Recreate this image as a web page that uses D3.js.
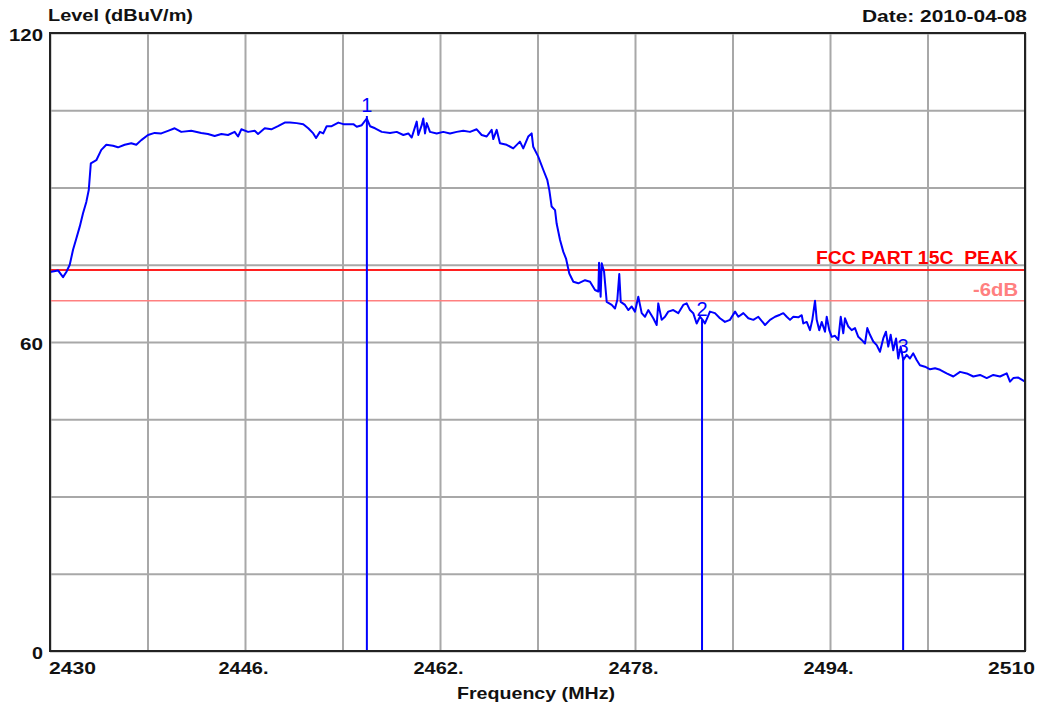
<!DOCTYPE html>
<html>
<head>
<meta charset="utf-8">
<script src="https://cdn.jsdelivr.net/npm/d3@7"></script>
<style>
  html, body { margin: 0; padding: 0; background: #ffffff; }
  svg { display: block; }
  text { font-family: Arial, "Liberation Sans", sans-serif; }
</style>
</head>
<body>
<svg id="chart" width="1046" height="705"></svg>
<script>
// ---------------- data ----------------
const freqMHz = [
  2430.00, 2430.66, 2431.07, 2431.34, 2431.62, 2431.89, 2432.16, 2432.44, 2432.71, 2432.98,
  2433.18, 2433.35, 2433.80, 2434.21, 2434.62, 2435.17, 2435.58, 2436.13, 2436.67, 2437.08,
  2437.49, 2438.04, 2438.59, 2439.13, 2439.68, 2440.23, 2440.77, 2441.59, 2442.41, 2442.96,
  2443.51, 2444.06, 2444.61, 2445.15, 2445.43, 2445.70, 2446.25, 2446.80, 2447.07, 2447.62,
  2448.16, 2448.71, 2449.26, 2449.69, 2450.24, 2450.78, 2451.19, 2451.60, 2451.83, 2452.15,
  2452.42, 2452.70, 2453.11, 2453.66, 2454.07, 2454.89, 2455.17, 2455.58, 2455.99, 2456.26,
  2456.67, 2457.22, 2457.90, 2458.45, 2458.99, 2459.40, 2459.68, 2460.09, 2460.22, 2460.50,
  2460.63, 2460.77, 2460.91, 2461.18, 2461.73, 2462.27, 2462.82, 2463.37, 2463.91, 2464.46,
  2465.01, 2465.42, 2465.83, 2466.24, 2466.37, 2466.65, 2466.92, 2467.47, 2468.01, 2468.56,
  2468.83, 2469.24, 2469.52, 2469.65, 2470.06, 2470.48, 2470.80, 2470.97, 2471.16, 2471.44,
  2471.57, 2471.85, 2472.12, 2472.34, 2472.61, 2472.94, 2473.35, 2473.90, 2474.31, 2474.72,
  2474.99, 2475.05, 2475.18, 2475.27, 2475.46, 2475.68, 2476.09, 2476.36, 2476.55, 2476.71,
  2476.83, 2477.18, 2477.45, 2477.73, 2478.00, 2478.27, 2478.55, 2478.82, 2479.09, 2479.50,
  2479.78, 2479.91, 2480.19, 2480.46, 2480.73, 2481.14, 2481.55, 2481.96, 2482.24, 2482.51,
  2482.78, 2483.06, 2483.33, 2483.55, 2483.74, 2484.15, 2484.56, 2484.97, 2485.38, 2485.79,
  2486.21, 2486.48, 2486.89, 2487.30, 2487.71, 2488.12, 2488.67, 2489.08, 2489.49, 2489.90,
  2490.17, 2490.45, 2490.72, 2490.99, 2491.40, 2491.68, 2491.81, 2492.09, 2492.36, 2492.55,
  2492.77, 2492.91, 2493.12, 2493.32, 2493.59, 2493.73, 2493.94, 2494.14, 2494.41, 2494.68,
  2494.88, 2495.09, 2495.23, 2495.50, 2495.78, 2496.05, 2496.32, 2496.60, 2496.87, 2497.06,
  2497.28, 2497.55, 2497.83, 2498.10, 2498.37, 2498.59, 2498.78, 2498.98, 2499.19, 2499.42,
  2499.60, 2499.80, 2500.01, 2500.29, 2500.56, 2500.83, 2501.11, 2501.38, 2501.79, 2502.21,
  2502.62, 2503.03, 2503.57, 2504.12, 2504.67, 2505.22, 2505.76, 2506.31, 2506.86, 2507.40,
  2507.95, 2508.50, 2508.77, 2509.04, 2509.45, 2510.00
];
const levelDbuV = [
  73.6, 73.9, 72.6, 73.6, 75.0, 77.9, 80.1, 82.4, 85.0, 87.2,
  89.5, 94.7, 95.3, 97.3, 98.3, 98.1, 97.8, 98.3, 98.6, 98.3,
  99.2, 100.2, 100.6, 100.5, 101.0, 101.5, 100.8, 101.0, 100.6, 100.4,
  100.0, 100.4, 100.2, 100.8, 99.9, 101.3, 100.8, 101.0, 100.4, 101.5,
  101.3, 101.9, 102.6, 102.6, 102.5, 102.3, 101.5, 100.5, 99.6, 100.8,
  100.5, 101.9, 101.9, 102.6, 102.3, 102.3, 101.8, 102.1, 103.4, 101.9,
  101.5, 100.8, 100.6, 100.8, 100.2, 100.5, 99.7, 102.8, 100.2, 102.1,
  103.4, 100.5, 102.5, 100.8, 100.5, 100.8, 100.5, 100.8, 101.0, 100.8,
  101.3, 100.2, 99.9, 101.2, 99.4, 101.2, 98.6, 98.3, 97.6, 98.9,
  97.6, 99.9, 100.5, 97.9, 96.0, 93.4, 91.5, 89.5, 86.3, 85.6,
  83.0, 79.8, 77.5, 76.2, 73.3, 71.7, 71.4, 72.0, 71.7, 70.1,
  69.8, 75.4, 68.8, 75.3, 73.7, 67.8, 67.2, 66.5, 68.2, 73.2,
  67.8, 67.2, 66.2, 66.9, 65.9, 68.8, 65.6, 64.9, 66.2, 64.6,
  63.3, 67.5, 64.3, 64.9, 65.9, 66.2, 65.6, 67.2, 67.5, 66.2,
  65.6, 63.6, 64.9, 64.3, 63.6, 65.9, 65.6, 64.6, 63.9, 64.3,
  65.9, 64.9, 65.6, 64.6, 64.3, 64.9, 63.3, 64.3, 64.9, 65.3,
  65.6, 64.9, 64.3, 64.9, 64.8, 65.2, 63.6, 63.9, 62.3, 64.3,
  68.0, 64.3, 62.3, 63.9, 62.0, 64.9, 62.3, 61.0, 61.2, 60.4,
  64.9, 61.7, 64.6, 63.0, 62.3, 62.7, 61.0, 60.4, 59.7, 62.7,
  61.4, 60.1, 59.4, 58.1, 60.7, 62.0, 59.1, 61.4, 58.4, 60.7,
  56.8, 59.1, 56.5, 57.5, 56.8, 57.8, 56.5, 55.5, 55.2, 54.7,
  54.9, 54.6, 53.9, 53.3, 54.2, 53.9, 53.3, 53.6, 53.0, 53.6,
  53.3, 53.9, 52.3, 53.0, 53.1, 52.3
];
const markerLabels = ["1", "2", "3"];
const markerFreq = [2456.0, 2483.5, 2500.0];
const markerLevel = [103.9, 64.3, 57.0];

const limitPeak = 74;      // FCC PART 15C PEAK
const limitMinus6 = 68;    // -6dB
const limitPeakLabel = "FCC PART 15C  PEAK";
const limitMinus6Label = "-6dB";

const yGridValues = [0, 15, 30, 45, 60, 75, 90, 105, 120];
const yTickLabels = [0, 60, 120];
const xGridValues = [2430, 2438, 2446, 2454, 2462, 2470, 2478, 2486, 2494, 2502, 2510];
const xTickValues = [2430, 2446, 2462, 2478, 2494, 2510];
const xTickText = ["2430", "2446.", "2462.", "2478.", "2494.", "2510"];

const yTitle = "Level (dBuV/m)";
const xTitle = "Frequency (MHz)";
const dateText = "Date: 2010-04-08";

// ---------------- layout ----------------
const L = 50, R = 1025, T = 33, B = 651;
const svg = d3.select("#chart");

const x = d3.scaleLinear().domain([2430, 2510]).range([L, R]);
const y = d3.scaleLinear().domain([0, 120]).range([B, T]);

// helper: text with width fitted to the reference (wide GDI-style glyphs)
function label(xp, yp, str, opts) {
  const t = svg.append("text").attr("x", xp).attr("y", yp)
    .attr("text-anchor", opts.anchor || "start")
    .attr("font-size", opts.size || 17)
    .attr("font-weight", opts.weight || "bold")
    .attr("fill", opts.fill || "#111")
    .attr("xml:space", "preserve")
    .style("white-space", "pre")
    .text(str);
  if (opts.width) t.attr("textLength", opts.width).attr("lengthAdjust", "spacingAndGlyphs");
  return t;
}

// grid
svg.append("g").attr("transform", `translate(0,${B})`)
  .call(d3.axisBottom(x).tickValues(xGridValues).tickSize(-(B - T)).tickFormat(""));
svg.append("g").attr("transform", `translate(${L},0)`)
  .call(d3.axisLeft(y).tickValues(yGridValues).tickSize(-(R - L)).tickFormat(""));
svg.selectAll(".domain").remove();
svg.selectAll(".tick line").attr("stroke", "#a8a8a8").attr("stroke-width", 2);

// limit lines
svg.append("line").attr("x1", L).attr("x2", R)
  .attr("y1", y(limitMinus6)).attr("y2", y(limitMinus6))
  .attr("stroke", "#ff8080").attr("stroke-width", 1.6);
svg.append("line").attr("x1", L).attr("x2", R)
  .attr("y1", y(limitPeak)).attr("y2", y(limitPeak))
  .attr("stroke", "#ff2020").attr("stroke-width", 2);

// trace
const pts = freqMHz.map((f, i) => [f, levelDbuV[i]]);
svg.append("path")
  .attr("d", d3.line().x(d => x(d[0])).y(d => y(d[1]))(pts))
  .attr("fill", "none").attr("stroke", "#0000ff").attr("stroke-width", 2)
  .attr("stroke-linejoin", "round");

// markers
markerFreq.forEach((f, i) => {
  svg.append("line").attr("x1", x(f)).attr("x2", x(f))
    .attr("y1", y(0)).attr("y2", y(markerLevel[i]))
    .attr("stroke", "#0000ff").attr("stroke-width", 2);
  label(x(f), y(markerLevel[i]) - 4, markerLabels[i],
    { anchor: "middle", size: 20, weight: "normal", fill: "#0000ff" });
});

// frame
svg.append("rect").attr("x", L).attr("y", T).attr("width", R - L).attr("height", B - T)
  .attr("fill", "none").attr("stroke", "#222").attr("stroke-width", 2);

// limit labels
label(1018, y(limitPeak) - 6, limitPeakLabel, { anchor: "end", size: 18, fill: "#ff0000", width: 202 });
label(1018, y(limitMinus6) - 5, limitMinus6Label, { anchor: "end", size: 18, fill: "#ff8080", width: 45 });

// y tick labels
const yLabW = { 0: 11, 60: 23, 120: 34 };
yTickLabels.forEach(v => label(43, y(v) + 8, String(v), { anchor: "end", size: 17, width: yLabW[v] }));

// x tick labels
xTickValues.forEach((v, i) => {
  const last = i === xTickValues.length - 1;
  const anchor = i === 0 ? "start" : (last ? "end" : "middle");
  const xp = i === 0 ? L - 1 : (last ? 1035 : x(v) - 1.5);
  label(xp, 674, xTickText[i], { anchor, size: 17, width: xTickText[i].length === 5 ? 50 : 47 });
});

// titles
label(48, 21, yTitle, { size: 17, width: 145 });
label(1027, 22, dateText, { anchor: "end", size: 17, width: 165 });
label(536, 699, xTitle, { anchor: "middle", size: 17, width: 158 });
</script>
</body>
</html>
